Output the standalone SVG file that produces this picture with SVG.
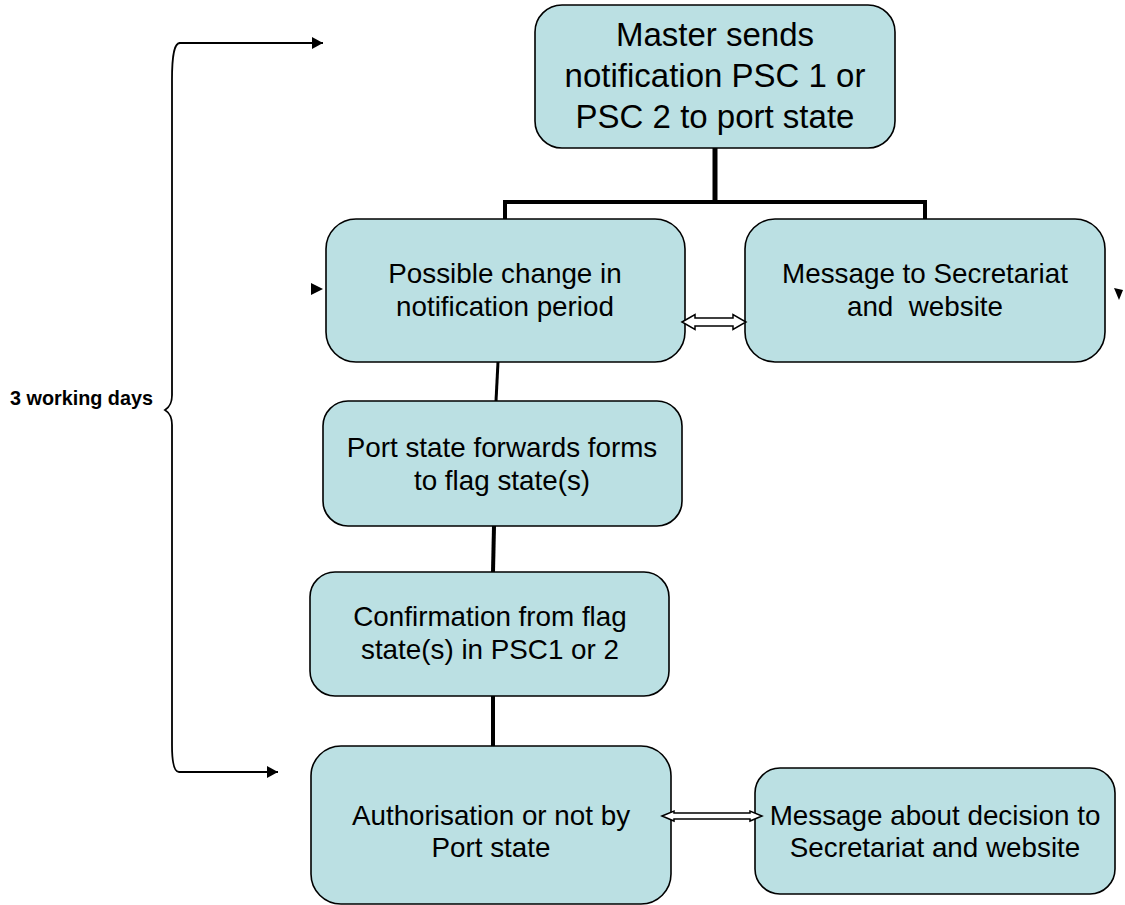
<svg xmlns="http://www.w3.org/2000/svg" width="1125" height="905" viewBox="0 0 1125 905">
<style>
.box{fill:#BBE0E3;stroke:#000;stroke-width:1.6}
.t{font-family:"Liberation Sans",Arial,sans-serif;font-size:27.8px;fill:#000;text-anchor:middle}
.big{font-size:33px}
.lbl{font-family:"Liberation Sans",Arial,sans-serif;font-size:19.8px;font-weight:bold;fill:#000}
.ln{stroke:#000;fill:none}
.dbl{fill:#fff;stroke:#000;stroke-width:1.5;stroke-linejoin:miter}
</style>
<defs>
<marker id="ah" markerWidth="11" markerHeight="12" refX="11" refY="6" orient="auto" markerUnits="userSpaceOnUse">
<path d="M0,0 L11,6 L0,12 Z" fill="#000"/>
</marker>
</defs>
<rect width="1125" height="905" fill="#fff"/>

<g id="n1">
<rect class="box" x="535" y="5" width="360" height="143" rx="27"/>
<text class="t big" x="715" y="46">Master sends</text>
<text class="t big" x="715" y="87">notification PSC 1 or</text>
<text class="t big" x="715" y="128">PSC 2 to port state</text>
</g>
<g id="n2">
<rect class="box" x="326" y="219" width="359" height="143" rx="30"/>
<text class="t" x="505" y="283">Possible change in</text>
<text class="t" x="505" y="316">notification period</text>
</g>
<g id="n3">
<rect class="box" x="745" y="219" width="360" height="143" rx="30"/>
<text class="t" x="925" y="283">Message to Secretariat</text>
<text class="t" x="925" y="316">and&#160; website</text>
</g>
<g id="n4">
<rect class="box" x="323" y="401" width="359" height="125" rx="25"/>
<text class="t" x="502" y="457">Port state forwards forms</text>
<text class="t" x="502" y="490">to flag state(s)</text>
</g>
<g id="n5">
<rect class="box" x="310" y="572" width="359" height="124" rx="25"/>
<text class="t" x="490" y="626">Confirmation from flag</text>
<text class="t" x="490" y="659">state(s) in PSC1 or 2</text>
</g>
<g id="n6">
<rect class="box" x="311" y="746" width="360" height="158" rx="30"/>
<text class="t" x="491" y="825">Authorisation or not by</text>
<text class="t" x="491" y="857">Port state</text>
</g>
<g id="n7">
<rect class="box" x="755" y="768" width="360" height="126" rx="25"/>
<text class="t" x="935" y="825">Message about decision to</text>
<text class="t" x="935" y="857">Secretariat and website</text>
</g>
<g id="brace-label">
<text class="lbl" x="10" y="405">3 working days</text>
</g>

<g id="connectors">
<path class="ln" stroke-width="5" d="M715,148 L715,204"/>
<path class="ln" stroke-width="4" d="M505,219 L505,202 L925,202 L925,219"/>
<path class="ln" stroke-width="3" d="M498,362 L496,401"/>
<path class="ln" stroke-width="4" d="M494,526 L493,572"/>
<path class="ln" stroke-width="4" d="M493,696 L493,746"/>
<polygon class="dbl" points="682,322 695,314.5 695,318 733,318 733,314.5 746,322 733,329.5 733,326 695,326 695,329.5"/>
<polygon class="dbl" points="662,816 674,811 674,813 750,813 750,811 762,816 750,821 750,819 674,819 674,821"/>
<path class="ln" stroke-width="1.8" d="M180,43 C175,43 172,52 172,80 L172,395 C172,405 168,408 165,410 C168,412 172,415 172,425 L172,745 C172,766 175,772 179,772"/>
<path class="ln" stroke-width="2.2" d="M179,43 L323,43" marker-end="url(#ah)"/>
<path class="ln" stroke-width="2.2" d="M179,772 L278,772" marker-end="url(#ah)"/>
<polygon points="311,283 323,289 311,295" fill="#000"/>
<polygon points="1114,288 1123,290 1119,300" fill="#000"/>
</g>
</svg>
